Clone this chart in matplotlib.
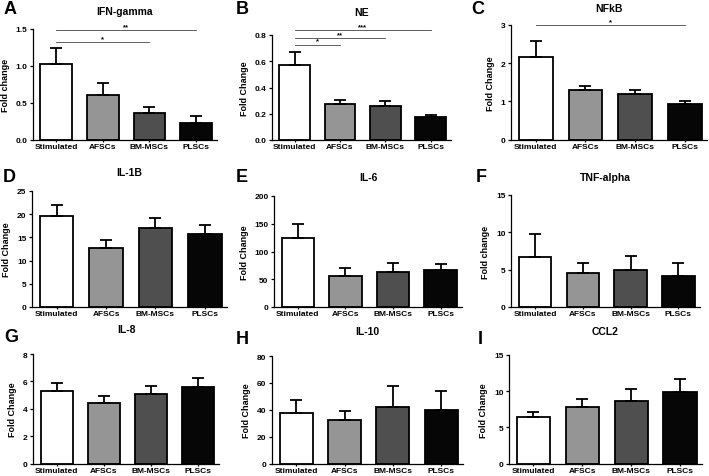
import matplotlib.pyplot as plt

plt.rcParams["font.family"] = ["Liberation Sans", "DejaVu Sans"]
plt.rcParams["font.weight"] = "bold"

# groups and bar fills
groups = ["Stimulated", "AFSCs", "BM-MSCs", "PLSCs"]
bar_colors = ["white", "#959595", "#4f4f4f", "#060606"]

letters = ["A", "B", "C", "D", "E", "F", "G", "H", "I"]
titles = ["IFN-gamma", "NE", "NFkB", "IL-1B", "IL-6", "TNF-alpha", "IL-8", "IL-10", "CCL2"]
ylabels = ["Fold change", "Fold Change", "Fold Change", "Fold Change", "Fold Change",
           "Fold change", "Fold Change", "Fold Change", "Fold Change"]

# mean fold change and SEM (upper error only) per marker
ifn_mean = [1.02, 0.61, 0.36, 0.23]
ifn_sem = [0.22, 0.16, 0.085, 0.09]
ne_mean = [0.571, 0.274, 0.259, 0.173]
ne_sem = [0.096, 0.031, 0.041, 0.017]
nfkb_mean = [2.15, 1.29, 1.20, 0.94]
nfkb_sem = [0.43, 0.12, 0.11, 0.07]
il1b_mean = [19.6, 12.7, 17.1, 15.7]
il1b_sem = [2.4, 1.8, 2.0, 1.9]
il6_mean = [123.6, 55.0, 63.0, 66.0]
il6_sem = [25.4, 15.0, 16.0, 11.6]
tnf_mean = [6.7, 4.55, 4.9, 4.2]
tnf_sem = [3.1, 1.35, 1.9, 1.7]
il8_mean = [5.33, 4.39, 5.06, 5.59]
il8_sem = [0.53, 0.57, 0.63, 0.63]
il10_mean = [37.9, 32.3, 42.3, 39.9]
il10_sem = [9.3, 7.1, 15.7, 14.4]
ccl2_mean = [6.36, 7.82, 8.6, 9.95]
ccl2_sem = [0.78, 1.13, 1.7, 1.75]

means = [ifn_mean, ne_mean, nfkb_mean, il1b_mean, il6_mean, tnf_mean, il8_mean, il10_mean, ccl2_mean]
sems = [ifn_sem, ne_sem, nfkb_sem, il1b_sem, il6_sem, tnf_sem, il8_sem, il10_sem, ccl2_sem]

yticks = [
    [0.0, 0.5, 1.0, 1.5],
    [0.0, 0.2, 0.4, 0.6, 0.8],
    [0, 1, 2, 3],
    [0, 5, 10, 15, 20, 25],
    [0, 50, 100, 150, 200],
    [0, 5, 10, 15],
    [0, 2, 4, 6, 8],
    [0, 20, 40, 60, 80],
    [0, 5, 10, 15],
]

# significance brackets: (panel, from group, to group, height, label)
sig_marks = [
    (0, 0, 3, 1.485, "**"),
    (0, 0, 2, 1.32, "*"),
    (1, 0, 3, 0.838, "***"),
    (1, 0, 2, 0.774, "**"),
    (1, 0, 1, 0.726, "*"),
    (2, 0, 3, 2.99, "*"),
]

# panel boxes in pixels: left, top, bottom, width
boxes = [
    (33, 30, 140.5, 184), (272, 36, 141, 179), (511, 26, 140.5, 196),
    (32, 192, 308, 195), (274, 197, 308, 188), (511, 196, 308, 189),
    (33, 355, 464.5, 186), (272, 357, 464.5, 191), (509, 356, 464.5, 193),
]
title_y = [12, 13, 9, 173, 178, 178, 330, 332, 332]
letter_xy = [(10, 10), (242, 9), (478, 10), (9, 178), (242, 178), (481, 178),
             (11, 338), (242, 340), (480, 340)]

W, H = 709, 477
fig = plt.figure(figsize=(W / 100, H / 100), dpi=100)

x = list(range(len(groups)))
axes = []
for i in range(9):
    left, top, bottom, width = boxes[i]
    ax = fig.add_axes([left / W, 1 - bottom / H, width / W, (bottom - top) / H])
    axes.append(ax)
    ax.bar(x, means[i], width=0.68, color=bar_colors, edgecolor="black", linewidth=1.3, zorder=2)
    ax.errorbar(x, means[i], yerr=[[0] * 4, sems[i]], fmt="none", ecolor="black",
                elinewidth=1.3, capsize=4.5, capthick=1.3, zorder=3)
    ax.set_xlim(-0.5, 3.45)
    ax.set_ylim(yticks[i][0], yticks[i][-1])
    ax.set_yticks(yticks[i])
    if any(t != int(t) for t in yticks[i]):
        ax.set_yticklabels(["%.1f" % t for t in yticks[i]])
    else:
        ax.set_yticklabels(["%d" % t for t in yticks[i]])
    ax.set_xticks(x)
    ax.set_xticklabels(groups)
    for s in ["top", "right"]:
        ax.spines[s].set_visible(False)
    for s in ["left", "bottom"]:
        ax.spines[s].set_linewidth(0.9)
    ax.tick_params(axis="y", labelsize=6, length=2.5, width=0.9, pad=1.5)
    ax.tick_params(axis="x", labelsize=6, length=1.5, width=0.9, pad=1.0)
    ax.set_ylabel(ylabels[i], fontsize=6.5, fontweight="bold", labelpad=4)

    cx = (left + width / 2) / W
    fig.text(cx, 1 - title_y[i] / H, titles[i], ha="center", va="center",
             fontsize=7.5, fontweight="bold")
    lx, ly = letter_xy[i]
    fig.text(lx / W, 1 - ly / H, letters[i], ha="center", va="center",
             fontsize=13, fontweight="bold")

for p, a, b, yv, lab in sig_marks:
    ax = axes[p]
    ax.plot([a, b], [yv, yv], color="#444444", linewidth=0.6, clip_on=False)
    ax.text((a + b) / 2, yv, lab, ha="center", va="bottom", fontsize=5.5,
            fontweight="bold", clip_on=False)

fig.savefig("out.png", dpi=100)
